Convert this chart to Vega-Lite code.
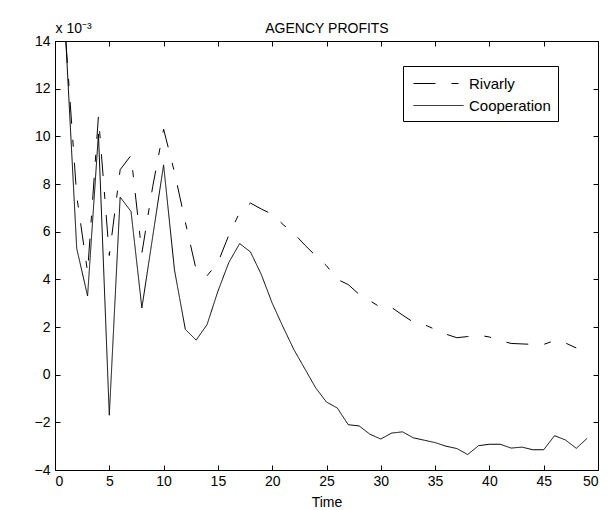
{
  "$schema": "https://vega.github.io/schema/vega-lite/v6.json",
  "width": 543,
  "height": 429,
  "autosize": "none",
  "padding": {"left": 55, "top": 41, "right": 12, "bottom": 40},
  "background": "white",
  "datasets": {
    "profits": [
      {"t":1,"v":14.0,"s":"Cooperation"},{"t":2,"v":5.3,"s":"Cooperation"},{"t":3,"v":3.3,"s":"Cooperation"},{"t":4,"v":10.1,"s":"Cooperation"},{"t":5,"v":-1.7,"s":"Cooperation"},
      {"t":6,"v":7.45,"s":"Cooperation"},{"t":7,"v":6.85,"s":"Cooperation"},{"t":8,"v":2.8,"s":"Cooperation"},{"t":9,"v":5.8,"s":"Cooperation"},{"t":10,"v":8.8,"s":"Cooperation"},
      {"t":11,"v":4.4,"s":"Cooperation"},{"t":12,"v":1.9,"s":"Cooperation"},{"t":13,"v":1.45,"s":"Cooperation"},{"t":14,"v":2.1,"s":"Cooperation"},{"t":15,"v":3.5,"s":"Cooperation"},
      {"t":16,"v":4.7,"s":"Cooperation"},{"t":17,"v":5.5,"s":"Cooperation"},{"t":18,"v":5.15,"s":"Cooperation"},{"t":19,"v":4.2,"s":"Cooperation"},{"t":20,"v":3.0,"s":"Cooperation"},
      {"t":21,"v":2.0,"s":"Cooperation"},{"t":22,"v":1.05,"s":"Cooperation"},{"t":23,"v":0.25,"s":"Cooperation"},{"t":24,"v":-0.55,"s":"Cooperation"},{"t":25,"v":-1.15,"s":"Cooperation"},
      {"t":26,"v":-1.4,"s":"Cooperation"},{"t":27,"v":-2.1,"s":"Cooperation"},{"t":28,"v":-2.15,"s":"Cooperation"},{"t":29,"v":-2.5,"s":"Cooperation"},{"t":30,"v":-2.7,"s":"Cooperation"},
      {"t":31,"v":-2.45,"s":"Cooperation"},{"t":32,"v":-2.4,"s":"Cooperation"},{"t":33,"v":-2.65,"s":"Cooperation"},{"t":34,"v":-2.75,"s":"Cooperation"},{"t":35,"v":-2.85,"s":"Cooperation"},
      {"t":36,"v":-3.0,"s":"Cooperation"},{"t":37,"v":-3.1,"s":"Cooperation"},{"t":38,"v":-3.35,"s":"Cooperation"},{"t":39,"v":-2.98,"s":"Cooperation"},{"t":40,"v":-2.92,"s":"Cooperation"},
      {"t":41,"v":-2.92,"s":"Cooperation"},{"t":42,"v":-3.08,"s":"Cooperation"},{"t":43,"v":-3.04,"s":"Cooperation"},{"t":44,"v":-3.15,"s":"Cooperation"},{"t":45,"v":-3.15,"s":"Cooperation"},
      {"t":46,"v":-2.56,"s":"Cooperation"},{"t":47,"v":-2.74,"s":"Cooperation"},{"t":48,"v":-3.09,"s":"Cooperation"},{"t":49,"v":-2.67,"s":"Cooperation"},
      {"t":1,"v":14.0,"s":"Rivarly"},{"t":2,"v":7.5,"s":"Rivarly"},{"t":3,"v":4.3,"s":"Rivarly"},{"t":4,"v":10.85,"s":"Rivarly"},{"t":5,"v":5.0,"s":"Rivarly"},
      {"t":6,"v":8.6,"s":"Rivarly"},{"t":7,"v":9.2,"s":"Rivarly"},{"t":8,"v":5.1,"s":"Rivarly"},{"t":9,"v":7.9,"s":"Rivarly"},{"t":10,"v":10.3,"s":"Rivarly"},
      {"t":11,"v":8.5,"s":"Rivarly"},{"t":12,"v":6.4,"s":"Rivarly"},{"t":13,"v":4.4,"s":"Rivarly"},{"t":14,"v":4.15,"s":"Rivarly"},{"t":15,"v":4.7,"s":"Rivarly"},
      {"t":16,"v":5.85,"s":"Rivarly"},{"t":17,"v":6.8,"s":"Rivarly"},{"t":18,"v":7.2,"s":"Rivarly"},{"t":19,"v":6.95,"s":"Rivarly"},{"t":20,"v":6.73,"s":"Rivarly"},
      {"t":21,"v":6.3,"s":"Rivarly"},{"t":22,"v":5.93,"s":"Rivarly"},{"t":23,"v":5.44,"s":"Rivarly"},{"t":24,"v":4.99,"s":"Rivarly"},{"t":25,"v":4.57,"s":"Rivarly"},
      {"t":26,"v":4.0,"s":"Rivarly"},{"t":27,"v":3.78,"s":"Rivarly"},{"t":28,"v":3.37,"s":"Rivarly"},{"t":29,"v":3.1,"s":"Rivarly"},{"t":30,"v":2.82,"s":"Rivarly"},
      {"t":31,"v":2.82,"s":"Rivarly"},{"t":32,"v":2.5,"s":"Rivarly"},{"t":33,"v":2.2,"s":"Rivarly"},{"t":34,"v":2.1,"s":"Rivarly"},{"t":35,"v":1.9,"s":"Rivarly"},
      {"t":36,"v":1.7,"s":"Rivarly"},{"t":37,"v":1.55,"s":"Rivarly"},{"t":38,"v":1.6,"s":"Rivarly"},{"t":39,"v":1.66,"s":"Rivarly"},{"t":40,"v":1.58,"s":"Rivarly"},
      {"t":41,"v":1.43,"s":"Rivarly"},{"t":42,"v":1.31,"s":"Rivarly"},{"t":43,"v":1.29,"s":"Rivarly"},{"t":44,"v":1.27,"s":"Rivarly"},{"t":45,"v":1.27,"s":"Rivarly"},
      {"t":46,"v":1.43,"s":"Rivarly"},{"t":47,"v":1.33,"s":"Rivarly"},{"t":48,"v":1.12,"s":"Rivarly"}
    ]
  },
  "data": {"name": "profits"},
  "layer": [
    {
      "mark": {"type": "line", "color": "black", "strokeWidth": 1, "clip": true},
      "encoding": {
        "x": {"field": "t", "type": "quantitative", "scale": {"domain": [0, 50], "nice": false, "zero": false},
              "axis": {"orient": "bottom", "values": [0,5,10,15,20,25,30,35,40,45,50], "title": "Time", "titleBaseline": "alphabetic", "titleY": 36}},
        "y": {"field": "v", "type": "quantitative", "scale": {"domain": [-4, 14], "nice": false, "zero": false},
              "axis": {"orient": "left", "values": [-4,-2,0,2,4,6,8,10,12,14], "labelPadding": 10, "title": "x 10⁻³", "titleAngle": 0, "titleAlign": "left", "titleBaseline": "alphabetic", "titleX": 0, "titleY": -9, "titleFontSize": 14}},
        "strokeDash": {"field": "s", "type": "nominal",
          "scale": {"domain": ["Rivarly", "Cooperation"], "range": [[22, 16, 7, 16], [1, 0]]},
          "legend": {"title": null, "orient": "none", "legendX": 348, "legendY": 25, "symbolType": "M-0.7,0H4.3", "symbolSize": 400,
                     "symbolStrokeColor": "black", "symbolStrokeWidth": 1, "labelFont": "Liberation Sans", "labelFontSize": 15, "labelColor": "black",
                     "strokeColor": "black", "fillColor": "white", "padding": 7, "rowPadding": 3, "labelOffset": 38, "cornerRadius": 0}}
      }
    },
    {
      "mark": {"type": "line", "opacity": 0},
      "encoding": {
        "x": {"field": "t", "type": "quantitative", "axis": {"orient": "top", "values": [0,5,10,15,20,25,30,35,40,45,50], "labels": false, "title": "AGENCY PROFITS", "titleBaseline": "alphabetic", "titleY": -9}},
        "y": {"field": "v", "type": "quantitative", "axis": {"orient": "right", "values": [-4,-2,0,2,4,6,8,10,12,14], "labels": false, "title": null}},
        "detail": {"field": "s", "type": "nominal"}
      }
    }
  ],
  "resolve": {"axis": {"x": "independent", "y": "independent"}},
  "config": {
    "view": {"stroke": "black", "strokeWidth": 1},
    "axis": {"domain": false, "grid": false, "tickColor": "black", "tickSize": -5, "tickWidth": 1, "labelPadding": 9,
             "labelColor": "black", "labelFont": "Liberation Sans", "labelFontSize": 14,
             "titleColor": "black", "titleFont": "Liberation Sans", "titleFontSize": 14, "titleFontWeight": "normal"}
  }
}
